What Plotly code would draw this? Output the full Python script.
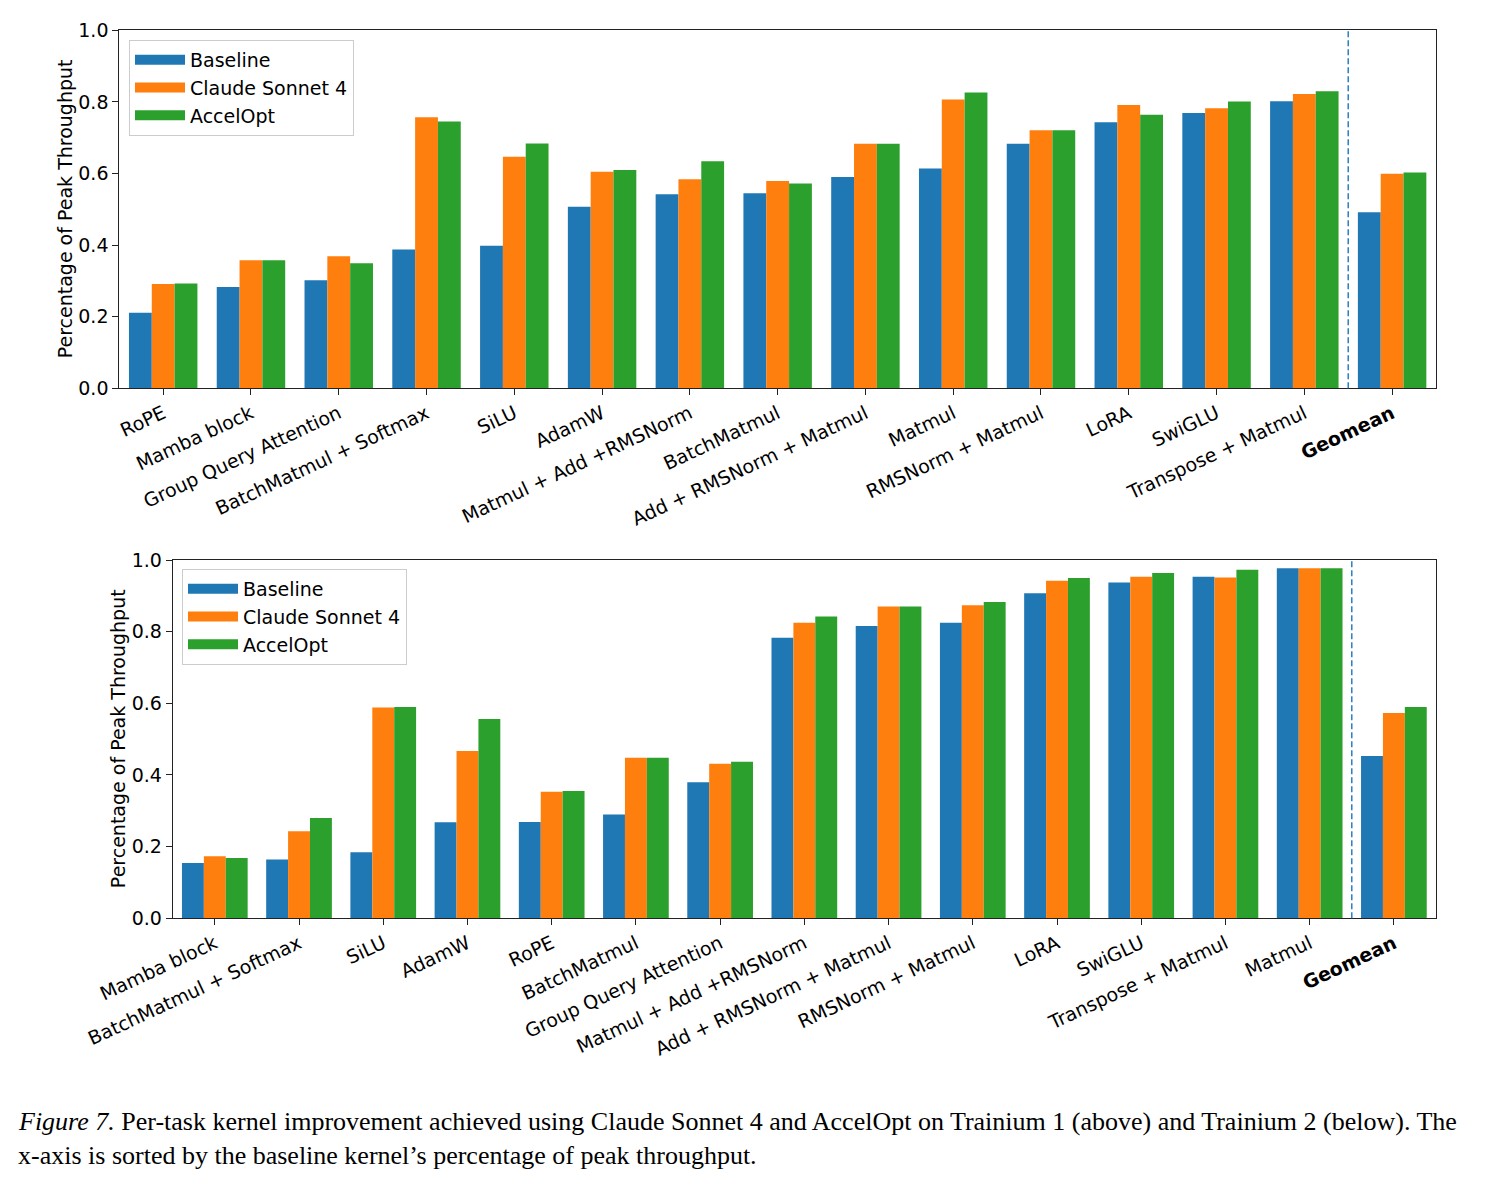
import plotly.graph_objects as go

W, H = 1491, 1185

cats_trn1 = ["RoPE", "Mamba block", "Group Query Attention", "BatchMatmul + Softmax", "SiLU", "AdamW",
             "Matmul + Add +RMSNorm", "BatchMatmul", "Add + RMSNorm + Matmul", "Matmul",
             "RMSNorm + Matmul", "LoRA", "SwiGLU", "Transpose + Matmul", "Geomean"]
baseline_trn1 = [0.211, 0.283, 0.302, 0.388, 0.398, 0.507, 0.542, 0.545, 0.590, 0.614, 0.683, 0.743, 0.769, 0.802, 0.492]
claude_trn1 = [0.291, 0.358, 0.369, 0.757, 0.647, 0.605, 0.584, 0.579, 0.683, 0.807, 0.721, 0.791, 0.782, 0.822, 0.599]
accelopt_trn1 = [0.293, 0.358, 0.349, 0.745, 0.684, 0.610, 0.634, 0.572, 0.683, 0.826, 0.721, 0.764, 0.801, 0.830, 0.603]

cats_trn2 = ["Mamba block", "BatchMatmul + Softmax", "SiLU", "AdamW", "RoPE", "BatchMatmul",
             "Group Query Attention", "Matmul + Add +RMSNorm", "Add + RMSNorm + Matmul",
             "RMSNorm + Matmul", "LoRA", "SwiGLU", "Transpose + Matmul", "Matmul", "Geomean"]
baseline_trn2 = [0.154, 0.164, 0.184, 0.268, 0.269, 0.290, 0.380, 0.783, 0.816, 0.825, 0.907, 0.937, 0.953, 0.977, 0.453]
claude_trn2 = [0.173, 0.243, 0.588, 0.467, 0.353, 0.448, 0.431, 0.825, 0.870, 0.874, 0.942, 0.953, 0.951, 0.977, 0.573]
accelopt_trn2 = [0.168, 0.280, 0.590, 0.556, 0.355, 0.448, 0.437, 0.842, 0.870, 0.883, 0.950, 0.964, 0.973, 0.977, 0.590]

series_names = ["Baseline", "Claude Sonnet 4", "AccelOpt"]
colors = ["#1f77b4", "#ff7f0e", "#2ca02c"]
y_ticks = [0.0, 0.2, 0.4, 0.6, 0.8, 1.0]
caption_line1 = "<i>Figure 7.</i> Per-task kernel improvement achieved using Claude Sonnet 4 and AccelOpt on Trainium 1 (above) and Trainium 2 (below). The"
caption_line2 = "x-axis is sorted by the baseline kernel\u2019s percentage of peak throughput."

FONT = "DejaVu Sans"
FS = 19

fig = go.Figure()

panels = [
    (cats_trn1, [baseline_trn1, claude_trn1, accelopt_trn1], "x", "y", "legend"),
    (cats_trn2, [baseline_trn2, claude_trn2, accelopt_trn2], "x2", "y2", "legend2"),
]

for cats, vals, xa, ya, lg in panels:
    for name, v, c in zip(series_names, vals, colors):
        fig.add_trace(go.Bar(x=cats, y=v, name=name, marker=dict(color=c, line=dict(width=0)),
                             xaxis=xa, yaxis=ya, showlegend=False))
    for name, c in zip(series_names, colors):
        fig.add_trace(go.Scatter(x=[None], y=[None], mode="lines", name=name,
                                 line=dict(color=c, width=13), xaxis=xa, yaxis=ya,
                                 legend=lg, showlegend=True))

def px_x(p):
    return p / W

def px_y(p):
    return 1 - p / H

axis_common = dict(showline=True, linecolor="#222", linewidth=1, mirror=True,
                   ticks="outside", ticklen=6, tickcolor="#222", showgrid=False, zeroline=False,
                   automargin=False,
                   tickfont=dict(family=FONT, size=FS, color="black"))

def xaxis_cfg(cats, domain, anchor):
    return dict(axis_common, domain=domain, anchor=anchor, type="category",
                range=[-0.5, len(cats) - 0.5], tickangle=-25,
                tickmode="array", tickvals=cats,
                ticktext=[("<b>%s</b>" % c) if c == "Geomean" else c for c in cats])

def yaxis_cfg(domain, anchor):
    return dict(axis_common, domain=domain, anchor=anchor, range=[0, 1],
                tickmode="array", tickvals=y_ticks, ticktext=["%.1f" % t for t in y_ticks])

top_dom_x = [px_x(119.3), px_x(1436)]
bot_dom_x = [px_x(172.7), px_x(1436)]
top_dom_y = [px_y(388.3), px_y(30.3)]
bot_dom_y = [px_y(918.3), px_y(560)]

legend_cfg = dict(bgcolor="white", bordercolor="#cccccc", borderwidth=1,
                  font=dict(family=FONT, size=FS, color="black"),
                  xanchor="left", yanchor="top", itemwidth=50, tracegroupgap=0)

fig.update_layout(
    width=W, height=H,
    margin=dict(l=0, r=0, t=0, b=0, autoexpand=False),
    paper_bgcolor="white", plot_bgcolor="white",
    barmode="group", bargap=0.22, bargroupgap=0,
    xaxis=xaxis_cfg(cats_trn1, top_dom_x, "y"),
    yaxis=yaxis_cfg(top_dom_y, "x"),
    xaxis2=xaxis_cfg(cats_trn2, bot_dom_x, "y2"),
    yaxis2=yaxis_cfg(bot_dom_y, "x2"),
    legend=dict(legend_cfg, x=px_x(129), y=px_y(40)),
    legend2=dict(legend_cfg, x=px_x(182), y=px_y(569)),
    font=dict(family=FONT, size=FS, color="black"),
)

for xa, ya in [("x", "y"), ("x2", "y2")]:
    fig.add_shape(type="line", xref=xa, yref=ya + " domain", x0=13.5, x1=13.5, y0=0, y1=1,
                  line=dict(color="#2a7fc2", width=1.5, dash="6px,3px"))

# y-axis titles
fig.add_annotation(text="Percentage of Peak Throughput", xref="paper", yref="paper",
                   x=px_x(65), y=(top_dom_y[0] + top_dom_y[1]) / 2, textangle=-90,
                   showarrow=False, xanchor="center", yanchor="middle",
                   font=dict(family=FONT, size=FS, color="black"))
fig.add_annotation(text="Percentage of Peak Throughput", xref="paper", yref="paper",
                   x=px_x(118), y=(bot_dom_y[0] + bot_dom_y[1]) / 2, textangle=-90,
                   showarrow=False, xanchor="center", yanchor="middle",
                   font=dict(family=FONT, size=FS, color="black"))

# caption
fig.add_annotation(text=caption_line1, xref="paper", yref="paper", x=px_x(16), y=px_y(1121),
                   showarrow=False, xanchor="left", yanchor="middle",
                   font=dict(family="Liberation Serif", size=26, color="black"))
fig.add_annotation(text=caption_line2, xref="paper", yref="paper", x=px_x(16), y=px_y(1155),
                   showarrow=False, xanchor="left", yanchor="middle",
                   font=dict(family="Liberation Serif", size=26, color="black"))

fig.write_html("out.html")
